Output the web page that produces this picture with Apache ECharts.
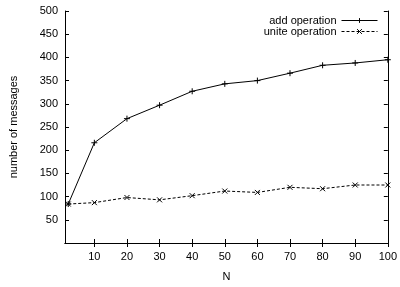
<!DOCTYPE html>
<html>
<head>
<meta charset="utf-8">
<script src="https://cdn.jsdelivr.net/npm/echarts@6/dist/echarts.min.js"></script>
<style>
  html, body { margin: 0; padding: 0; background: #fff; }
  #main { width: 400px; height: 287px; }
</style>
</head>
<body>
<div id="main"></div>
<script>
// N values and message counts
var nValues = [2, 10, 20, 30, 40, 50, 60, 70, 80, 90, 100];
var addOperation = [84, 216, 268, 297, 327, 343, 350, 366, 383, 388, 395];
var uniteOperation = [84, 87, 98, 93, 102, 112, 109, 120, 117, 125, 125];
var xTicks = [10, 20, 30, 40, 50, 60, 70, 80, 90, 100];

var font = 'Liberation Sans, Arial, sans-serif';

function pairs(ys) {
    return nValues.map(function(n, i) { return [n, ys[i]]; });
}

var plusSym = 'path://M0,5L10,5M5,0L5,10';
var crossSym = 'path://M0,0L10,10M10,0L0,10';

var chart = echarts.init(document.getElementById('main'), null, {renderer: 'canvas'});

chart.setOption({
    animation: false,
    grid: {left: 62, right: 8, top: 11, bottom: 35},
    legend: {
        orient: 'vertical',
        right: 22,
        top: 15,
        padding: 0,
        align: 'right',
        itemWidth: 36,
        itemHeight: 6,
        itemGap: 0,
        lineStyle: {width: 1},
        itemStyle: {borderWidth: 1},
        textStyle: {fontFamily: font, fontSize: 11, color: '#000', padding: [0, 0, 0, 0]},
        data: ['add operation', 'unite operation']
    },
    xAxis: [
        {
            type: 'value', min: 1, max: 100,
            name: 'N', nameLocation: 'middle', nameGap: 28,
            nameTextStyle: {fontFamily: font, fontSize: 11, color: '#000'},
            axisLine: {lineStyle: {color: '#000', width: 1}},
            axisTick: {inside: true, length: 4, customValues: xTicks, lineStyle: {color: '#000'}},
            axisLabel: {customValues: xTicks, fontFamily: font, fontSize: 11, color: '#000', margin: 8},
            splitLine: {show: false}
        },
        {
            type: 'value', min: 1, max: 100, position: 'top',
            axisLine: {lineStyle: {color: '#000', width: 1}},
            axisTick: {inside: true, length: 4, customValues: xTicks, lineStyle: {color: '#000'}},
            axisLabel: {show: false},
            splitLine: {show: false}
        }
    ],
    yAxis: [
        {
            type: 'value', min: 0, max: 500, interval: 50,
            name: 'number of messages', nameLocation: 'middle', nameGap: 46,
            nameTextStyle: {fontFamily: font, fontSize: 11, color: '#000'},
            axisLine: {show: true, lineStyle: {color: '#000', width: 1}},
            axisTick: {show: true, inside: true, length: 4, lineStyle: {color: '#000'}},
            axisLabel: {
                fontFamily: font, fontSize: 11, color: '#000', margin: 7,
                formatter: function(v) { return v === 0 ? '' : v; }
            },
            splitLine: {show: false}
        },
        {
            type: 'value', min: 0, max: 500, interval: 50, position: 'right',
            axisLine: {show: true, lineStyle: {color: '#000', width: 1}},
            axisTick: {show: true, inside: true, length: 4, lineStyle: {color: '#000'}},
            axisLabel: {show: false},
            splitLine: {show: false}
        }
    ],
    series: [
        {
            name: 'add operation',
            type: 'line',
            data: pairs(addOperation),
            symbol: plusSym,
            symbolSize: 6,
            itemStyle: {color: '#000', borderColor: '#000', borderWidth: 1},
            lineStyle: {color: '#000', width: 1}
        },
        {
            name: 'unite operation',
            type: 'line',
            data: pairs(uniteOperation),
            symbol: crossSym,
            symbolSize: 5,
            itemStyle: {color: '#000', borderColor: '#000', borderWidth: 1},
            lineStyle: {color: '#000', width: 1, type: [3, 2]}
        }
    ]
});
</script>
</body>
</html>
